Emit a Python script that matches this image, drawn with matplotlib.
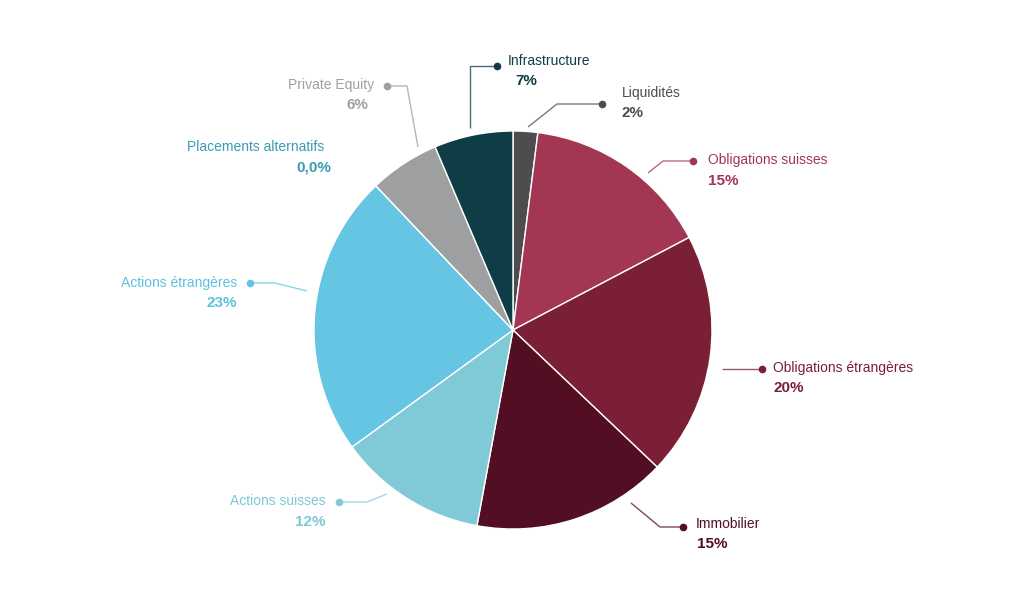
import matplotlib
matplotlib.use("Agg")
import matplotlib.pyplot as plt
import numpy as np

plt.rcParams['font.family'] = ['Liberation Sans', 'DejaVu Sans']

# ---- data ----
categories = ["Liquidités", "Obligations suisses", "Obligations étrangères", "Immobilier",
              "Actions suisses", "Actions étrangères", "Placements alternatifs",
              "Private Equity", "Infrastructure"]
values = [2.0, 15.3, 19.8, 15.8, 12.1, 22.9, 0.0, 5.7, 6.4]
value_labels = ["2%", "15%", "20%", "15%", "12%", "23%", "0,0%", "6%", "7%"]
colors = ["#4d4d4f", "#a33653", "#7a1f35", "#520e22", "#80cad8", "#66c5e2",
          "#3b9cb4", "#9d9fa0", "#0f3d46"]

W, H = 1024, 606
fig = plt.figure(figsize=(W / 100, H / 100), dpi=100)
ax = fig.add_axes([0, 0, 1, 1])
ax.set_xlim(0, W)
ax.set_ylim(0, H)
ax.set_aspect('equal')
ax.axis('off')

def Y(py):
    return H - py

cx, cy, R = 513, 330, 199
ax.pie(values, colors=colors, startangle=90, counterclock=False,
       center=(cx, Y(cy)), radius=R, frame=True,
       wedgeprops=dict(edgecolor='white', linewidth=1))
ax.set_xlim(0, W)
ax.set_ylim(0, H)
ax.axis('off')

# layout: leader line points (pixel coords), label anchor, alignment
layout = {
    "Liquidités": dict(line=[(528, 127), (557, 104), (602, 104)], txt=(622, 93), val=(622, 113), ha='left'),
    "Obligations suisses": dict(line=[(648, 173), (663, 161), (693, 161)], txt=(708, 160), val=(708, 181), ha='left'),
    "Obligations étrangères": dict(line=[(722, 369), (762, 369)], txt=(773, 368), val=(773, 388), ha='left'),
    "Immobilier": dict(line=[(631, 503), (660, 527), (683, 527)], txt=(696, 524), val=(697, 544), ha='left'),
    "Actions suisses": dict(line=[(387, 494), (367, 502), (339, 502)], txt=(326, 501), val=(326, 522), ha='right'),
    "Actions étrangères": dict(line=[(307, 291), (275, 283), (250, 283)], txt=(237, 283), val=(237, 303), ha='right'),
    "Placements alternatifs": dict(line=None, txt=(324, 147), val=(331, 168), ha='right'),
    "Private Equity": dict(line=[(418, 147), (407, 86), (387, 86)], txt=(374, 85), val=(368, 105), ha='right'),
    "Infrastructure": dict(line=[(470, 128), (470, 66), (497, 66)], txt=(508, 61), val=(515, 81), ha='left'),
}

text_colors = {"Private Equity": "#a0a0a0", "Actions étrangères": "#5fc0de",
               "Actions suisses": "#7cc8d6"}

for cat, lab, col in zip(categories, value_labels, colors):
    L = layout[cat]
    tcol = text_colors.get(cat, col)
    if L["line"] is not None:
        xs = [p[0] for p in L["line"]]
        ys = [Y(p[1]) for p in L["line"]]
        ax.plot(xs, ys, color=col, lw=1.0, alpha=0.75, solid_capstyle='butt')
        ax.plot(xs[-1], ys[-1], 'o', color=col, ms=5.5, mec='none')
    ax.text(L["txt"][0], Y(L["txt"][1]), cat, ha=L["ha"], va='center',
            fontsize=10, color=tcol)
    ax.text(L["val"][0], Y(L["val"][1]), lab, ha=L["ha"], va='center',
            fontsize=11, fontweight='bold', color=tcol)

fig.savefig("out.png", dpi=100, facecolor='white')
